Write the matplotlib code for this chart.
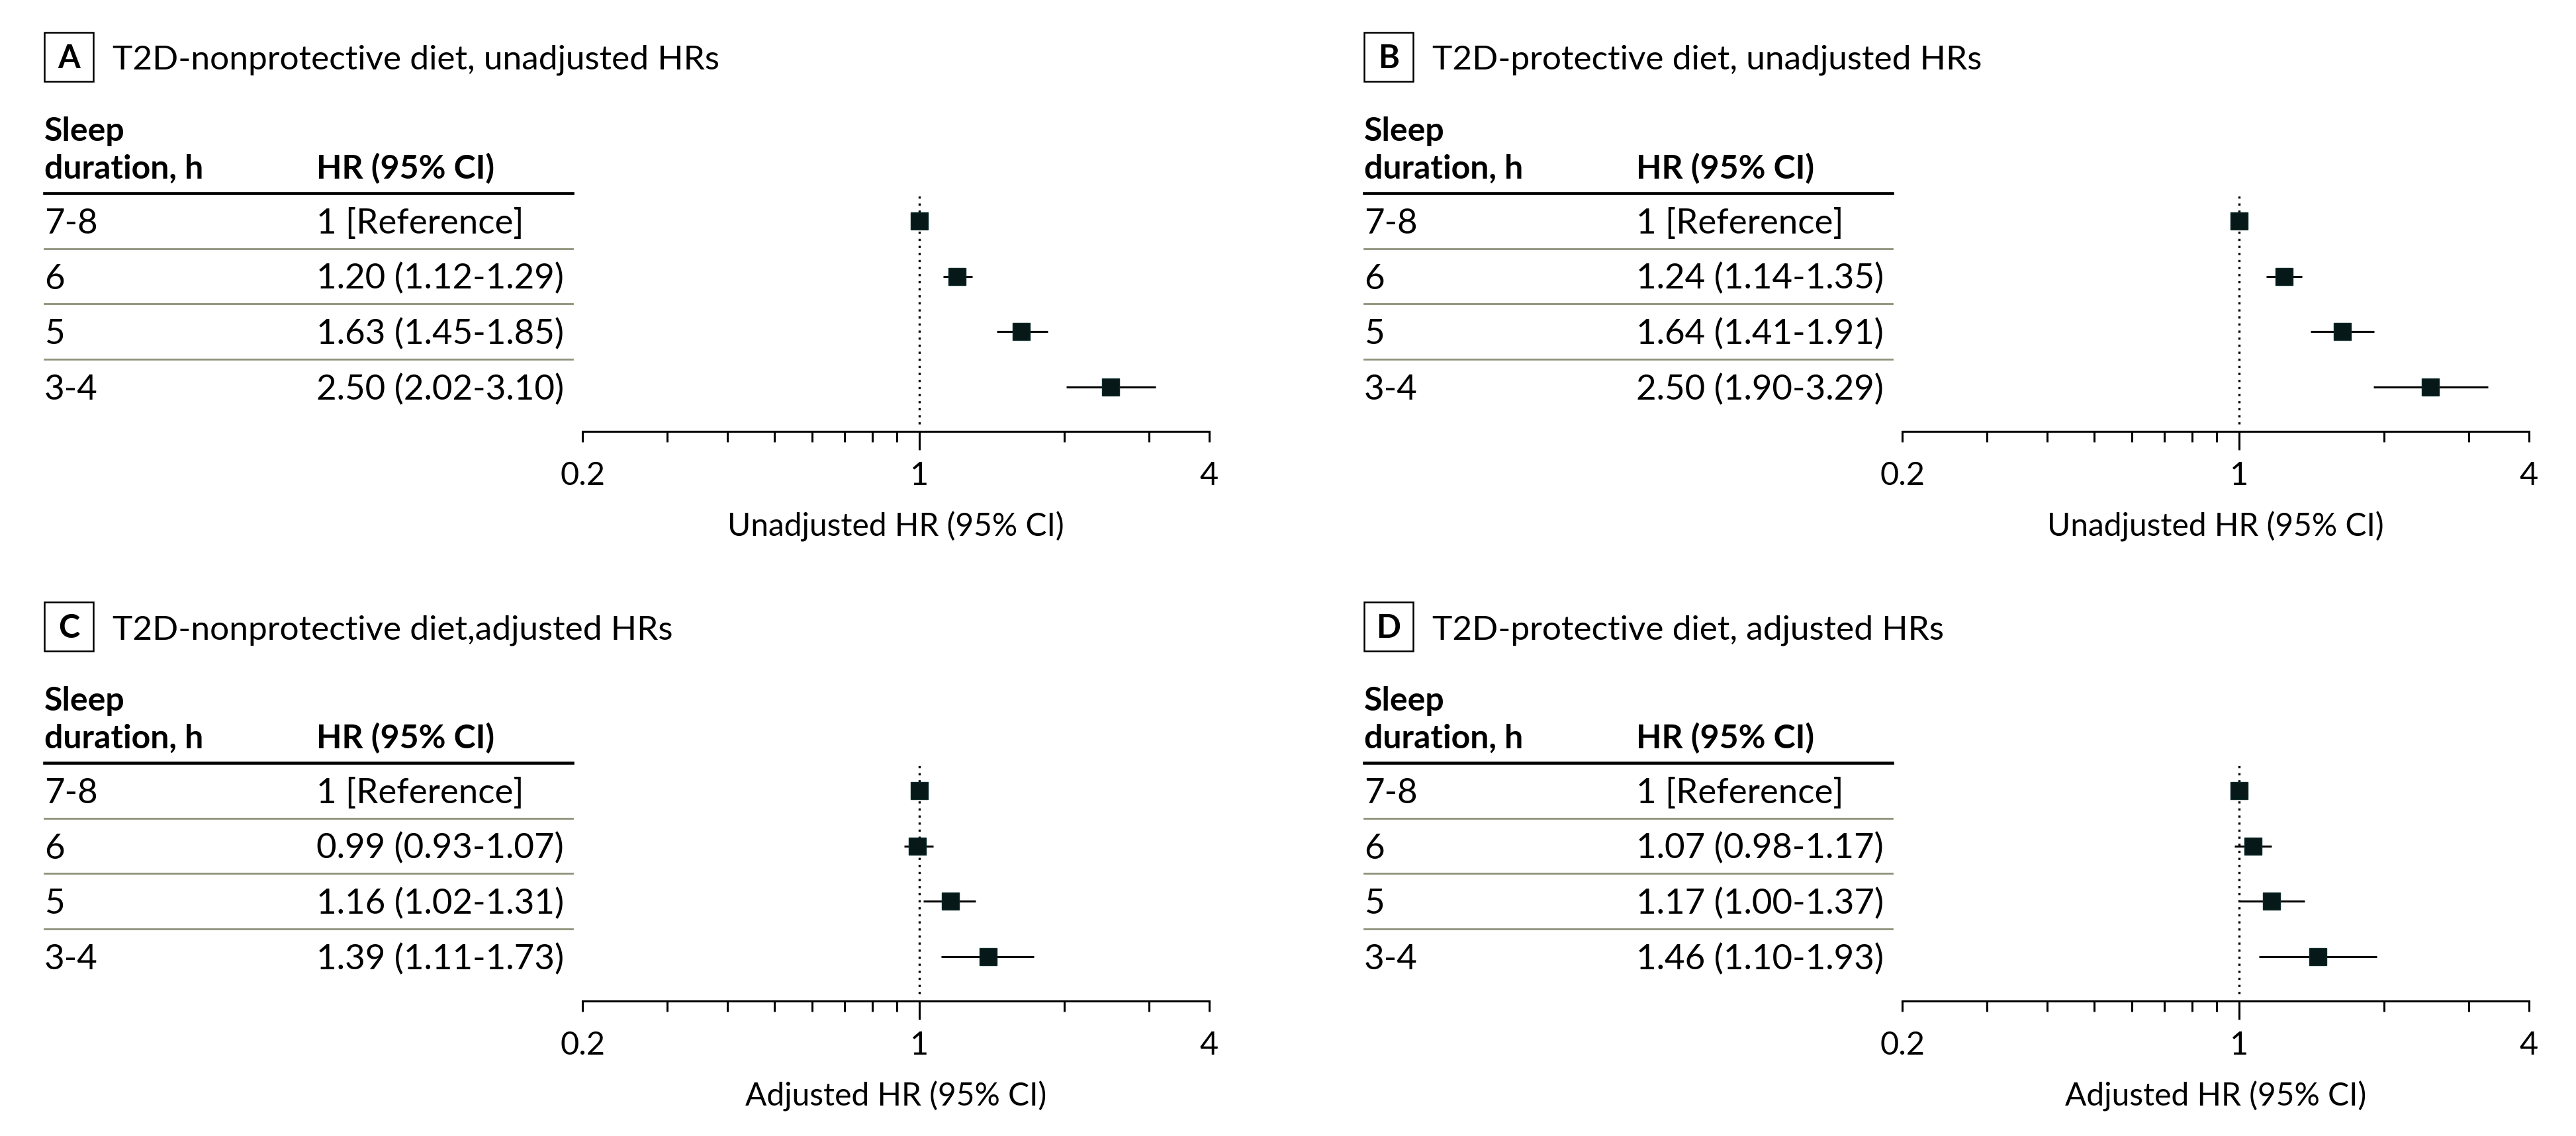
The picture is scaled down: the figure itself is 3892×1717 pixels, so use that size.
import matplotlib.pyplot as plt
from matplotlib.patches import Rectangle
from matplotlib.ticker import FixedLocator, NullFormatter

plt.rcParams['font.family'] = ['Lato', 'DejaVu Sans']

W, H = 3892, 1717

durations = ['7-8', '6', '5', '3-4']
letters = ['A', 'B', 'C', 'D']
titles = ['T2D-nonprotective diet, unadjusted HRs',
          'T2D-protective diet, unadjusted HRs',
          'T2D-nonprotective diet,adjusted HRs',
          'T2D-protective diet, adjusted HRs']
xlabels = ['Unadjusted HR (95% CI)', 'Unadjusted HR (95% CI)',
           'Adjusted HR (95% CI)', 'Adjusted HR (95% CI)']

# hazard ratios, first row is the reference group
hr_a = [1.00, 1.20, 1.63, 2.50]
lo_a = [1.00, 1.12, 1.45, 2.02]
hi_a = [1.00, 1.29, 1.85, 3.10]

hr_b = [1.00, 1.24, 1.64, 2.50]
lo_b = [1.00, 1.14, 1.41, 1.90]
hi_b = [1.00, 1.35, 1.91, 3.29]

hr_c = [1.00, 0.99, 1.16, 1.39]
lo_c = [1.00, 0.93, 1.02, 1.11]
hi_c = [1.00, 1.07, 1.31, 1.73]

hr_d = [1.00, 1.07, 1.17, 1.46]
lo_d = [1.00, 0.98, 1.00, 1.10]
hi_d = [1.00, 1.17, 1.37, 1.93]

panels = [(hr_a, lo_a, hi_a), (hr_b, lo_b, hi_b), (hr_c, lo_c, hi_c), (hr_d, lo_d, hi_d)]
major_ticks = [0.2, 1, 4]
minor_ticks = [0.3, 0.4, 0.5, 0.6, 0.7, 0.8, 0.9, 2, 3]

MARK = '#071818'
SEP = '#8e927a'

fig = plt.figure(figsize=(W / 100, H / 100), dpi=100)


def rect(x0, y0, x1, y1):
    # pixel box (top-left origin) -> figure fraction
    return [x0 / W, 1 - y1 / H, (x1 - x0) / W, (y1 - y0) / H]


offsets = [(0, 0), (1994, 0), (0, 861), (1994, 861)]
rows = list(range(len(durations)))
base = 0.227  # text baseline offset from row centre, in row units

for k, (dx, dy) in enumerate(offsets):
    hr, lo, hi = panels[k]

    # panel letter box and title
    fig.patches.append(Rectangle(((67 + dx) / W, 1 - (123 + dy) / H), 74 / W, 74 / H,
                                 transform=fig.transFigure, fill=False,
                                 edgecolor='black', linewidth=1.8))
    fig.text((104 + dx) / W, 1 - (103 + dy) / H, letters[k], ha='center',
             va='baseline', fontsize=35, fontweight='bold')
    fig.text((170 + dx) / W, 1 - (105 + dy) / H, titles[k], ha='left',
             va='baseline', fontsize=37)

    # table part
    tab = fig.add_axes(rect(67 + dx, 292 + dy, 865 + dx, 652 + dy))
    tab.set_xlim(0, 1)
    tab.set_ylim(3.8, -0.5)
    tab.axis('off')
    col2 = (478 - 67) / (865 - 67)
    tab.text(0, -1.446, 'Sleep', fontsize=36, fontweight='bold', va='baseline')
    tab.text(0, -0.765, 'duration, h', fontsize=36, fontweight='bold', va='baseline')
    tab.text(col2, -0.765, 'HR (95% CI)', fontsize=36, fontweight='bold', va='baseline')
    tab.axhline(-0.5, color='black', linewidth=3.3, clip_on=False)
    for r in rows[:-1]:
        tab.axhline(r + 0.5, color=SEP, linewidth=2.0, clip_on=False)
    for r in rows:
        if r == 0:
            txt = '1 [Reference]'
        else:
            txt = f'{hr[r]:.2f} ({lo[r]:.2f}-{hi[r]:.2f})'
        tab.text(0, r + base, durations[r], fontsize=38, va='baseline')
        tab.text(col2, r + base, txt, fontsize=38, va='baseline')

    # forest plot part
    ax = fig.add_axes(rect(880 + dx, 292 + dy, 1827 + dx, 652 + dy))
    ax.set_xscale('log')
    ax.set_xlim(0.2, 4)
    ax.set_ylim(3.8, -0.5)
    ax.axvline(1, ymin=0.03, ymax=1, color='black', linewidth=2.4,
               linestyle=(0, (1, 2.2)), zorder=1)
    ax.hlines(rows, lo, hi, color='black', linewidth=2.2, zorder=2)
    ax.plot(hr, rows, 's', color=MARK, markersize=18.5, markeredgewidth=1,
            markeredgecolor='#0d2a2a', zorder=3)

    for s in ['top', 'left', 'right']:
        ax.spines[s].set_visible(False)
    ax.spines['bottom'].set_linewidth(2.2)
    ax.set_yticks([])
    ax.xaxis.set_major_locator(FixedLocator(major_ticks))
    ax.set_xticklabels(['0.2', '1', '4'])
    ax.xaxis.set_minor_locator(FixedLocator(minor_ticks))
    ax.xaxis.set_minor_formatter(NullFormatter())
    ax.tick_params(axis='x', which='both', direction='out', length=11.5,
                   width=2.2, pad=21, labelsize=35)
    ax.xaxis.get_major_ticks()[1].tick1line.set_markersize(20)
    ax.set_xlabel(xlabels[k], fontsize=34.5, va='top')
    ax.xaxis.set_label_coords(0.5, -0.335)

fig.savefig('out.png', dpi=100)
